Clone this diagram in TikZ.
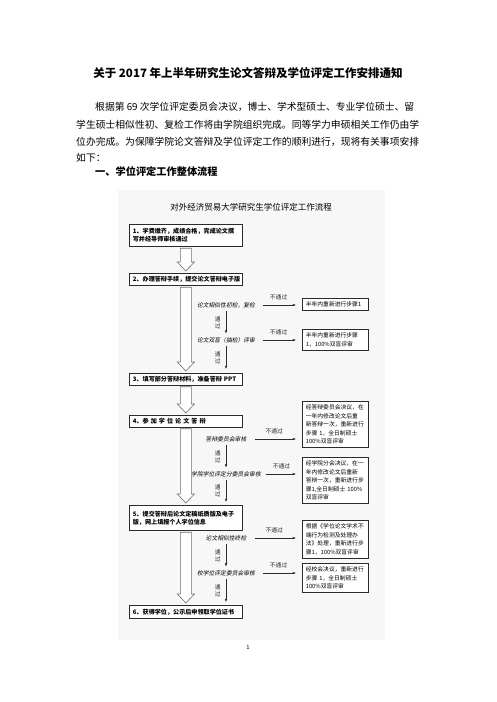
\documentclass[tikz,border=0pt]{standalone}
\usepackage{fontspec}
\setmainfont{Noto Sans CJK SC}
\newfontfamily\slantcjk[FakeSlant=0.2]{Noto Sans CJK SC}
\definecolor{flowLine}{HTML}{2B2B2B}
\definecolor{flowGrey}{HTML}{707070}
\definecolor{panelGrey}{HTML}{F7F7F7}
\usetikzlibrary{arrows.meta, positioning, calc}
\tikzset{
    doc title/.style={inner sep=0pt, font=\fontsize{11.5}{14}\selectfont\bfseries},
    doc line/.style={anchor=west, inner sep=0pt, font=\fontsize{9.8}{12}\selectfont},
    doc head/.style={anchor=west, inner sep=0pt, font=\fontsize{10.2}{12}\selectfont\bfseries},
    chart title/.style={inner sep=0pt, font=\fontsize{8.5}{10}\selectfont},
    stage box/.style={rectangle, draw=flowLine, fill=white, line width=0.7pt, anchor=north west,
        text width=106pt, align=left, inner xsep=3.5pt, inner ysep=2.5pt, font=\fontsize{6.1}{8}\selectfont\bfseries},
    result box/.style={rectangle, draw=flowLine, fill=white, line width=0.6pt, anchor=north west,
        text width=59pt, align=left, inner xsep=3.5pt, inner ysep=3.5pt, font=\fontsize{5.8}{8.5}\selectfont},
    check/.style={inner sep=0pt, font=\slantcjk\fontsize{5.8}{7}\selectfont},
    pass/.style={inner sep=0pt, align=center, font=\fontsize{5.8}{6.8}\selectfont},
    fail/.style={inner sep=0pt, font=\fontsize{5.8}{7}\selectfont},
    flow/.style={-{Latex[length=3.2pt, width=2.6pt]}, line width=0.5pt, flowLine},
    hollow/.style={draw=flowGrey, fill=white, line width=0.6pt, line join=miter},
}
\newcommand{\hollowarrow}[2]{%
    \draw[hollow] let \p1 = (#1.south), \p2 = (#2.north) in
        (\x1-5.5pt,\y1-1.5pt) -- (\x1+5.5pt,\y1-1.5pt) -- (\x1+5.5pt,\y2+11pt)
        -- (\x1+8.5pt,\y2+11pt) -- (\x1,\y2+2pt) -- (\x1-8.5pt,\y2+11pt)
        -- (\x1-5.5pt,\y2+11pt) -- cycle;}

\begin{document}
\begin{tikzpicture}[x=1pt, y=-1pt]
    \useasboundingbox (0,0) rectangle (496,702);
    \fill[white] (0,0) rectangle (496,702);
    \fill[panelGrey] (118,190) rectangle (385,640);

    \node[doc title] (title) at (248,73) {关于 2017 年上半年研究生论文答辩及学位评定工作安排通知};
    \node[doc line] (para1) at (95,107) {根据第 69 次学位评定委员会决议，博士、学术型硕士、专业学位硕士、留};
    \node[doc line] (para2) at (76,125) {学生硕士相似性初、复检工作将由学院组织完成。同等学力申硕相关工作仍由学};
    \node[doc line] (para3) at (76,142) {位办完成。为保障学院论文答辩及学位评定工作的顺利进行，现将有关事项安排};
    \node[doc line] (para4) at (76,158) {如下：};
    \node[doc head] (section) at (95,172) {一、学位评定工作整体流程};

    \node[chart title] (chart) at (251,207) {对外经济贸易大学研究生学位评定工作流程};

    \node[stage box, minimum height=22pt] (stage1) at (129,224) {1、学费缴齐，成绩合格，完成论文撰\\写并经导师审核通过};
    \node[stage box, minimum height=12pt] (stage2) at (129,273) {2、办理答辩手续，提交论文答辩电子版};
    \node[stage box, minimum height=11.5pt] (stage3) at (129,373) {3、填写部分答辩材料，准备答辩 PPT};
    \node[stage box, minimum height=11.5pt] (stage4) at (129,415) {4、参 加 学 位 论 文 答 辩};
    \node[stage box, minimum height=25pt] (stage5) at (129,505) {5、提交答辩后论文定稿纸质版及电子\\版，网上填报个人学位信息};
    \node[stage box, minimum height=13pt] (stage6) at (129,605) {6、获得学位，公示后申领取学位证书};

    \node[check] (simfirst) at (226,305) {论文相似性初检，复检};
    \node[check] (blind) at (226,340) {论文双盲（抽检）评审};
    \node[check] (committee) at (226,439) {答辩委员会审核};
    \node[check] (school) at (226,474) {学院学位评定分委员会审核};
    \node[check] (simfinal) at (226,538) {论文相似性终检};
    \node[check] (university) at (226,573) {校学位评定委员会审核};

    \node[result box] (redo1) at (302,298) {半年内重新进行步骤1};
    \node[result box] (redo2) at (302,329) {半年内重新进行步骤\\1，100\%双盲评审};
    \node[result box] (redo3) at (302,401) {经答辩委员会决议，在\\一年内修改论文后重\\新答辩一次，重新进行\\步骤 1，全日制硕士\\100\%双盲评审};
    \node[result box] (redo4) at (302,457) {经学院分会决议，在一\\年内修改论文后重新\\答辩一次，重新进行步\\骤1,全日制硕士 100\%\\双盲评审};
    \node[result box] (redo5) at (302,520) {根据《学位论文学术不\\端行为检测及处理办\\法》处理，重新进行步\\骤1，100\%双盲评审};
    \node[result box] (redo6) at (302,563) {经校会决议，重新进行\\步骤 1，全日制硕士\\100\%双盲评审};

    \node[fail] (pagenum) at (248,647) {1};

    \hollowarrow{stage1}{stage2}
    \hollowarrow{stage2}{stage3}
    \hollowarrow{stage3}{stage4}
    \hollowarrow{stage4}{stage5}
    \hollowarrow{stage5}{stage6}

    \draw[flow, shorten <=8pt, shorten >=6pt] (simfirst.east) -- (simfirst.east -| redo1.west) node[midway, above=4.5pt, fail] {不通过};
    \draw[flow, shorten <=8pt, shorten >=6pt] (blind.east) -- (blind.east -| redo2.west) node[midway, above=4.5pt, fail] {不通过};
    \draw[flow, shorten <=8pt, shorten >=6pt] (committee.east) -- (committee.east -| redo3.west) node[midway, above=4.5pt, fail] {不通过};
    \draw[flow, shorten <=5pt, shorten >=6pt] (school.east) -- (school.east -| redo4.west) node[midway, above=4.5pt, fail] {不通过};
    \draw[flow, shorten <=8pt, shorten >=6pt] (simfinal.east) -- (simfinal.east -| redo5.west) node[midway, above=4.5pt, fail] {不通过};
    \draw[flow, shorten <=8pt, shorten >=6pt] (university.east) -- (university.east -| redo6.west) node[midway, above=4.5pt, fail] {不通过};

    \draw[flow, shorten <=3.5pt, shorten >=3.5pt] (simfirst.south) -- (blind.north) node[midway, left=5pt, pass] {通\\过};
    \draw[flow, shorten <=3.5pt, shorten >=4pt] (blind.south) -- (blind.south |- stage3.north) node[midway, left=5pt, pass] {通\\过};
    \draw[flow, shorten <=3.5pt, shorten >=3.5pt] (committee.south) -- (school.north) node[midway, left=5pt, pass] {通\\过};
    \draw[flow, shorten <=3.5pt, shorten >=3pt] (school.south) -- (school.south |- stage5.north) node[midway, left=5pt, pass] {通\\过};
    \draw[flow, shorten <=3.5pt, shorten >=3.5pt] (simfinal.south) -- (university.north) node[midway, left=5pt, pass] {通\\过};
    \draw[flow, shorten <=3.5pt, shorten >=3pt] (university.south) -- (university.south |- stage6.north) node[midway, left=5pt, pass] {通\\过};
\end{tikzpicture}
\end{document}
